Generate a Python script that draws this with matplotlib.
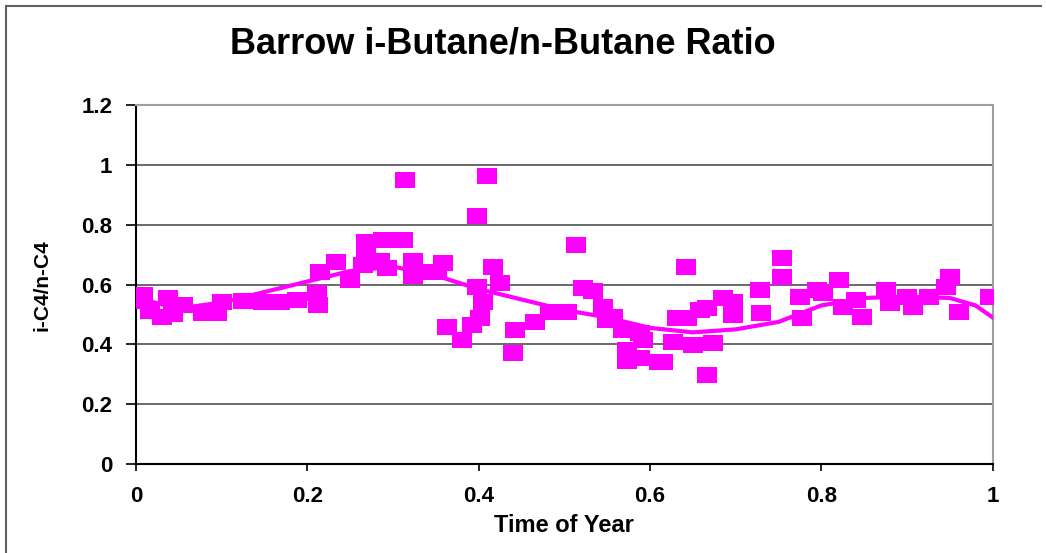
import numpy as np
import matplotlib.pyplot as plt
from matplotlib.lines import Line2D

# i-butane / n-butane ratio vs fraction of year
time_of_year = [0.008, 0.008, 0.016, 0.030, 0.037, 0.043, 0.055, 0.078, 0.094, 0.100,
                0.125, 0.148, 0.168, 0.188, 0.211, 0.212,
                0.215, 0.234, 0.250, 0.265, 0.269, 0.269, 0.285, 0.288, 0.293, 0.312,
                0.314, 0.323, 0.323, 0.331, 0.351, 0.358,
                0.363, 0.380, 0.392, 0.398, 0.398, 0.401, 0.405, 0.410, 0.417, 0.425,
                0.440, 0.442, 0.466, 0.483, 0.503, 0.514, 0.522, 0.533, 0.545, 0.550,
                0.557, 0.568, 0.573, 0.573, 0.588, 0.592, 0.588, 0.611, 0.615, 0.627,
                0.632, 0.643, 0.642, 0.650, 0.658, 0.667, 0.673, 0.666, 0.685, 0.697,
                0.697, 0.728, 0.730, 0.754, 0.754, 0.777, 0.775, 0.795, 0.802, 0.821,
                0.825, 0.840, 0.848, 0.876, 0.880, 0.900, 0.907, 0.926, 0.946, 0.950,
                0.961, 0.997]
ratio = [0.565, 0.545, 0.510, 0.490, 0.555, 0.500, 0.530, 0.505, 0.505, 0.540,
         0.545, 0.540, 0.540, 0.548, 0.571, 0.530,
         0.642, 0.675, 0.615, 0.665, 0.742, 0.715, 0.680, 0.749, 0.655, 0.749,
         0.950, 0.680, 0.630, 0.642, 0.642, 0.672,
         0.458, 0.414, 0.465, 0.829, 0.592, 0.488, 0.541, 0.963, 0.659, 0.605,
         0.371, 0.448, 0.475, 0.508, 0.508, 0.732, 0.588, 0.580, 0.525, 0.481,
         0.491, 0.448, 0.381, 0.345, 0.438, 0.414, 0.354, 0.341, 0.341, 0.408,
         0.488, 0.488, 0.659, 0.398, 0.515, 0.297, 0.404, 0.521, 0.555, 0.541,
         0.498, 0.582, 0.505, 0.688, 0.625, 0.488, 0.558, 0.582, 0.571, 0.615,
         0.525, 0.548, 0.491, 0.582, 0.538, 0.558, 0.525, 0.558, 0.592, 0.625,
         0.508, 0.558]

# trendline
trend_x = [0, 0.05, 0.1, 0.15, 0.2, 0.25, 0.3, 0.35, 0.4, 0.45, 0.5,
           0.55, 0.6, 0.65, 0.7, 0.75, 0.8, 0.85, 0.9, 0.95, 0.98, 1.0]
trend_y = [0.555, 0.52, 0.54, 0.575, 0.61, 0.645, 0.66, 0.63, 0.585, 0.55, 0.515,
           0.49, 0.455, 0.44, 0.45, 0.475, 0.53, 0.555, 0.56, 0.555, 0.53, 0.49]

magenta = '#ff00ff'
fig = plt.figure(figsize=(10.46, 5.53), dpi=100)
ax = fig.add_axes([0.130, 0.161, 0.819, 0.649])

ax.plot(trend_x, trend_y, color=magenta, lw=3, zorder=3)
box = [(-1, -0.79), (1, -0.79), (1, 0.79), (-1, 0.79), (-1, -0.79)]
ax.plot(time_of_year, ratio, ls='none', marker=box, markersize=14,
        color=magenta, markeredgewidth=0, zorder=4)

ax.set_xlim(0, 1)
ax.set_ylim(0, 1.2)
ax.set_xticks([0, 0.2, 0.4, 0.6, 0.8, 1])
ax.set_xticklabels(['0', '0.2', '0.4', '0.6', '0.8', '1'])
ax.set_yticks([0, 0.2, 0.4, 0.6, 0.8, 1, 1.2])
ax.set_yticklabels(['0', '0.2', '0.4', '0.6', '0.8', '1', '1.2'])
for yv in [0.2, 0.4, 0.6, 0.8, 1.0]:
    ax.axhline(yv, color='#505050', lw=1.2, zorder=1)

ax.spines['left'].set_color('black')
ax.spines['bottom'].set_color('black')
ax.spines['left'].set_linewidth(1.5)
ax.spines['bottom'].set_linewidth(1.5)
ax.spines['top'].set_color('#a0a0a0')
ax.spines['right'].set_color('#a0a0a0')
ax.spines['top'].set_linewidth(1.5)
ax.spines['right'].set_linewidth(1.5)
ax.tick_params(axis='y', direction='out', length=7, width=1.2, pad=10,
               labelsize=16)
ax.tick_params(axis='x', direction='out', length=5, width=1.2, pad=11,
               labelsize=16)
for lab in ax.get_yticklabels() + ax.get_xticklabels():
    lab.set_fontweight('bold')
    lab.set_family('Liberation Sans')

ax.set_xlabel('Time of Year', fontsize=17, fontweight='bold',
              family='Liberation Sans', labelpad=5)
fig.text(0.040, 0.485, 'i-C4/n-C4', rotation=90, ha='center', va='center',
         fontsize=15, fontweight='bold', family='Liberation Sans')
fig.text(0.481, 0.921, 'Barrow i-Butane/n-Butane Ratio', ha='center',
         va='center', fontsize=26, fontweight='bold', family='Liberation Sans')

# outer frame, left and top edges
fig.add_artist(Line2D([0.006, 0.006], [0, 0.99], color='#606060', lw=1.5,
                      transform=fig.transFigure))
fig.add_artist(Line2D([0.006, 0.995], [0.99, 0.99], color='#606060', lw=1.5,
                      transform=fig.transFigure))

plt.savefig('out.png', dpi=100)
